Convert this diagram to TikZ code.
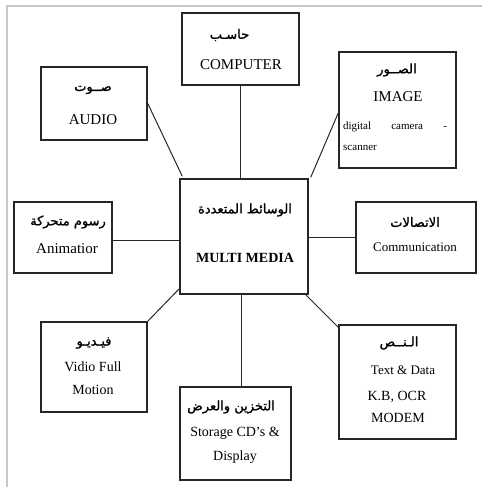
\documentclass[tikz,border=0pt]{standalone}
\usepackage{fontspec}
\setmainfont{Liberation Serif}
\newfontfamily\arabicfont[Script=Arabic,FakeBold=1.2]{DejaVu Sans}
\TeXXeTstate=1
\tikzset{
  box/.style={draw=black!85, line width=1.5pt, inner sep=0pt, rectangle},
  link/.style={draw=black!85, line width=1pt},
  ar/.style={inner sep=0pt, font=\arabicfont\fontsize{13}{15}\selectfont},
  en/.style={inner sep=0pt, font=\fontsize{15}{17}\selectfont},
}
\newcommand{\ArTxt}[1]{\beginR #1\endR}
\begin{document}
\begin{tikzpicture}[x=1pt,y=-1pt]
\useasboundingbox (0,0) rectangle (482,487);
\draw[black!22, line width=1.2pt] (7,487) -- (7,6) -- (482,6);
% boxes
\node[box, minimum width=117pt, minimum height=72pt]  (comp)  at (240.5,49)   {};
\node[box, minimum width=106pt, minimum height=73pt]  (audio) at (94,103.5)   {};
\node[box, minimum width=117pt, minimum height=116pt] (image) at (397.5,110)  {};
\node[box, minimum width=128pt, minimum height=115pt] (mm)    at (244,236.5)  {};
\node[box, minimum width=98pt,  minimum height=71pt]  (anim)  at (63,237.5)   {};
\node[box, minimum width=120pt, minimum height=71pt]  (comm)  at (416,237.5)  {};
\node[box, minimum width=106pt, minimum height=90pt]  (video) at (94,367)     {};
\node[box, minimum width=111pt, minimum height=93pt]  (stor)  at (235.5,433.5){};
\node[box, minimum width=117pt, minimum height=114pt] (text)  at (397.5,382)  {};
% texts
\node[ar] (compA) at (229.5,35) {\ArTxt{حاسـب}};
\node[en] (compE) at (241,65) {COMPUTER};
\node[ar] (audioA) at (93,90) {\ArTxt{صــوت}};
\node[en] (audioE) at (93,120) {AUDIO};
\node[ar] (imageA) at (397,70) {\ArTxt{الصــور}};
\node[en] (imageE) at (398,97) {IMAGE};
\node[inner sep=0pt, font=\fontsize{11}{13}\selectfont] (imageD) at (395,127) {\makebox[104pt][s]{digital\hfill camera\hfill -}};
\node[inner sep=0pt, font=\fontsize{11}{13}\selectfont, anchor=west] (imageS) at (343,148) {scanner};
\node[ar] (mmA) at (245,210) {\ArTxt{الوسائط المتعددة}};
\node[inner sep=0pt, font=\bfseries\fontsize{14}{16}\selectfont] (mmE) at (245,258) {MULTI MEDIA};
\node[ar] (animA) at (68,222) {\ArTxt{رسوم متحركة}};
\node[en] (animE) at (67,249) {Animatior};
\node[ar] (commA) at (415,222) {\ArTxt{الاتصالات}};
\node[inner sep=0pt, font=\fontsize{13}{15}\selectfont] (commE) at (415,247) {Communication};
\node[ar] (videoA) at (94,343) {\ArTxt{فيـديـو}};
\node[inner sep=0pt, font=\fontsize{14}{16}\selectfont] (videoE1) at (93,367) {Vidio Full};
\node[inner sep=0pt, font=\fontsize{14}{16}\selectfont] (videoE2) at (93,390) {Motion};
\node[ar] (storA) at (231,407) {\ArTxt{التخزين والعرض}};
\node[inner sep=0pt, font=\fontsize{14}{16}\selectfont] (storE1) at (235,433) {Storage CD’s \&};
\node[inner sep=0pt, font=\fontsize{14}{16}\selectfont] (storE2) at (235,457) {Display};
\node[ar] (textA) at (399,343) {\ArTxt{الـنــص}};
\node[inner sep=0pt, font=\fontsize{13}{15}\selectfont] (textE1) at (403,370) {Text \& Data};
\node[inner sep=0pt, font=\fontsize{14}{16}\selectfont] (textE2) at (397,397) {K.B, OCR};
\node[inner sep=0pt, font=\fontsize{14}{16}\selectfont] (textE3) at (398,418) {MODEM};
% connectors
\draw[link] (audio.east) -- ([xshift=3pt,yshift=2pt]mm.north west);
\draw[link] (comp.south) -- (comp.south |- mm.north);
\draw[link] ([yshift=-3pt]image.west) -- ([xshift=2pt,yshift=1pt]mm.north east);
\draw[link] ([yshift=-2.5pt]anim.east) -- ([yshift=-2.5pt]anim.east -| mm.west);
\draw[link] (comm.west) -- (comm.west -| mm.east);
\draw[link] ([yshift=6pt]mm.south west) -- (video.north east);
\draw[link] ([xshift=-3pt]mm.south) -- ([xshift=-3pt]mm.south |- stor.north);
\draw[link] ([xshift=-3pt]mm.south east) -- ([yshift=-3pt]text.north west);
\end{tikzpicture}
\end{document}
